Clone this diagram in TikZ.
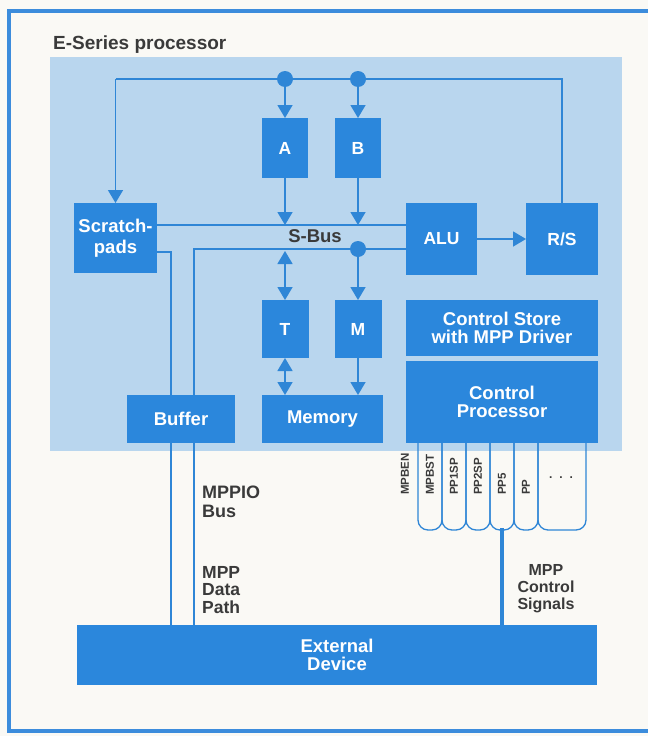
\documentclass[tikz,border=0pt]{standalone}
\usepackage{fontspec}
\setmainfont{Liberation Sans}
\usetikzlibrary{arrows.meta}
\definecolor{bgc}{HTML}{FAF9F5}
\definecolor{framec}{HTML}{3C8CDC}
\definecolor{panelc}{HTML}{B9D6EE}
\definecolor{boxc}{HTML}{2B87DC}
\definecolor{linec}{HTML}{2F86D6}
\definecolor{textc}{HTML}{3A3A3A}
\begin{document}
\begin{tikzpicture}[x=1pt,y=-1pt,
  box/.style={fill=boxc, text=white, font=\bfseries\fontsize{17.5}{18}\selectfont, align=center, inner sep=0pt, outer sep=0pt},
  bigbox/.style={box, font=\bfseries\fontsize{18.5}{18}\selectfont},
  conn/.style={draw=linec, line width=1.5pt},
  tip/.style={-{Triangle[width=15pt,length=13pt]}},
  dtip/.style={{Triangle[width=15pt,length=13pt]}-{Triangle[width=15pt,length=13pt]}},
  dot/.style={circle, fill=linec, minimum size=16pt, inner sep=0pt, outer sep=0pt},
  lbl/.style={text=textc, font=\bfseries\fontsize{18}{18.5}\selectfont, align=left, inner sep=0pt},
  sig/.style={text=textc, font=\bfseries\fontsize{11.5}{12}\selectfont, rotate=90, anchor=west, inner sep=0pt},
  sigline/.style={draw=linec, line width=1.3pt, rounded corners=10pt},
]
\useasboundingbox (0,0) rectangle (648,736);
\fill[bgc] (0,0) rectangle (648,736);
\draw[framec, line width=3.5pt] (648,11) -- (9,11) -- (9,731) -- (648,731);
\fill[panelc] (50,57) rectangle (622,451);

\node[text=textc, font=\bfseries\fontsize{19}{20}\selectfont, anchor=base west, inner sep=0pt] (title) at (53,49) {E-Series processor};

% boxes
\node[bigbox, minimum width=83pt, minimum height=70pt, font=\bfseries\fontsize{18.5}{21}\selectfont] (sp) at (115.5,238) {Scratch-\\pads};
\node[box, minimum width=46pt, minimum height=60pt] (a) at (285,148) {A};
\node[box, minimum width=46pt, minimum height=60pt] (b) at (358,148) {B};
\node[box, minimum width=71pt, minimum height=72pt] (alu) at (441.5,239) {ALU};
\node[box, minimum width=72pt, minimum height=72pt] (rs) at (562,239) {R/S};
\node[box, minimum width=47pt, minimum height=58pt] (t) at (285,329) {T};
\node[box, minimum width=47pt, minimum height=58pt] (m) at (358,329) {M};
\node[bigbox, minimum width=108pt, minimum height=48pt] (buf) at (181,419) {Buffer};
\node[bigbox, minimum width=121pt, minimum height=48pt] (mem) at (322.5,419) {Memory};
\node[bigbox, minimum width=192pt, minimum height=56pt] (cs) at (502,328) {Control Store\\with MPP Driver};
\node[bigbox, minimum width=192pt, minimum height=82pt] (cp) at (502,402) {Control\\Processor};
\node[bigbox, minimum width=520pt, minimum height=60pt, font=\bfseries\fontsize{18.5}{17.5}\selectfont] (ext) at (337,655) {External\\Device};

% dots
\node[dot] (dA) at (285,79) {};
\node[dot] (dB) at (358,79) {};
\node[dot] (dM) at (358,249) {};

% helper coordinates
\coordinate (sbY) at (0,225);
\coordinate (b2Y) at (0,249);
\coordinate (spY) at (0,252);
\coordinate (tY) at (0,251);
\coordinate (x171) at (171,0);
\coordinate (x194) at (194,0);
\coordinate (tl) at (sp.north |- dA);
\coordinate (tr) at (rs.north |- dA);

% top loop
\draw[conn] (rs.north) -- (tr) -- (tl);
\draw[conn, tip] (tl) -- (sp.north);
\draw[conn, tip] (dA) -- (a.north);
\draw[conn, tip] (dB) -- (b.north);

% S-Bus
\draw[conn] (sp.east |- sbY) -- (alu.west |- sbY);
\draw[conn, tip] (a.south) -- (a.south |- sbY);
\draw[conn, tip] (b.south) -- (b.south |- sbY);
\node[lbl, font=\bfseries\fontsize{18.5}{18}\selectfont] (sbus) at (315,236) {S-Bus};

% second bus
\draw[conn] (alu.west |- b2Y) -- (x194 |- b2Y) -- (x194 |- buf.north);
\draw[conn] (sp.east |- spY) -- (x171 |- spY) -- (x171 |- buf.north);
\draw[conn, tip] (dM) -- (m.north);
\draw[conn, dtip] (t.north |- tY) -- (t.north);
\draw[conn, dtip] (t.south) -- (t.south |- mem.north);
\draw[conn, tip] (m.south) -- (m.south |- mem.north);
\draw[conn, tip] (alu.east) -- (rs.west);

% MPPIO bus lines
\draw[conn, line width=1.3pt] (x171 |- buf.south) -- (x171 |- ext.north);
\draw[conn, line width=1.3pt] (x194 |- buf.south) -- (x194 |- ext.north);
\node[lbl, anchor=north west] (mppio) at (202,486) {MPPIO\\Bus};
\node[lbl, anchor=north west, font=\bfseries\fontsize{17.5}{17.5}\selectfont] (mppdp) at (202,566) {MPP\\Data\\Path};

% control signals
\foreach \xa/\xb in {418/442,442/466,466/490,490/514,514/538,538/586}
  \draw[sigline] (\xa,443) -- (\xa,530) -- (\xb,530) -- (\xb,443);
\coordinate (sigc) at (502,528);
\draw[linec, line width=4pt] (sigc) -- (sigc |- ext.north);
\node[sig] (s1) at (405,495) {MPBEN};
\node[sig] (s2) at (430,495) {MPBST};
\node[sig] (s3) at (454,495) {PP1SP};
\node[sig] (s4) at (478,495) {PP2SP};
\node[sig] (s5) at (502,495) {PP5};
\node[sig] (s6) at (526,495) {PP};
\node[text=textc, font=\bfseries\fontsize{12}{12}\selectfont, inner sep=0pt] (dots) at (561,478) {.\hspace{7pt}.\hspace{7pt}.};
\node[lbl, align=center, anchor=north, font=\bfseries\fontsize{16}{17}\selectfont] (mppcs) at (546,564) {MPP\\Control\\Signals};
\end{tikzpicture}
\end{document}
